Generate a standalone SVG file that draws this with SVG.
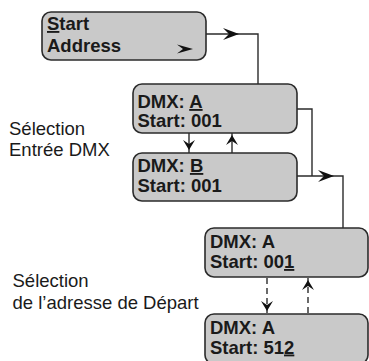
<svg xmlns="http://www.w3.org/2000/svg" width="369" height="361" viewBox="0 0 369 361">
<style>
.box{fill:#c9c9c9;stroke:#2b2b2b;stroke-width:1.6}
.bt{font-family:"Liberation Sans",Arial,sans-serif;font-weight:bold;font-size:18.5px;fill:#1a1a1a}
.lb{font-family:"Liberation Sans",Arial,sans-serif;font-size:18.5px;fill:#1a1a1a}
.ln{fill:none;stroke:#2b2b2b;stroke-width:1.4}
.dash{stroke-dasharray:6 4}
.ah{fill:#111}
.u{text-decoration:underline}
</style>
<defs>
<path id="big" d="M0,0 L-16,-6 L-10,0 L-16,6 Z"/>
<path id="small" d="M0,0 L-10,-6 L-6,0 L-10,6 Z"/>
</defs>
<g id="connectors">
<path class="ln" d="M206,34 H258 V84"/>
<use href="#big" class="ah" transform="translate(239,34)"/>
<path class="ln" d="M297,109 H312 V176"/>
<path class="ln" d="M297,176 H343 V228"/>
<use href="#big" class="ah" transform="translate(334,176)"/>
<path class="ln" d="M189,133 V153"/>
<use href="#small" class="ah" transform="translate(189,150) rotate(90)"/>
<path class="ln" d="M232,153 V133"/>
<use href="#small" class="ah" transform="translate(232,135) rotate(-90)"/>
<path class="ln dash" d="M267,278 V313"/>
<use href="#small" class="ah" transform="translate(267,311) rotate(90)"/>
<path class="ln dash" d="M308,313 V278"/>
<use href="#small" class="ah" transform="translate(308,280) rotate(-90)"/>
</g>
<g id="start-address">
<rect class="box" x="42" y="12" width="164" height="48" rx="9"/>
<text class="bt" x="47" y="30"><tspan class="u">S</tspan>tart</text>
<text class="bt" x="47" y="52">Address</text>
<use href="#big" class="ah" transform="translate(193,49) scale(1,0.75)"/>
</g>
<g id="dmx-a">
<rect class="box" x="133" y="84" width="164" height="49" rx="9"/>
<text class="bt" x="137.5" y="108">DMX: <tspan class="u">A</tspan></text>
<text class="bt" x="137.5" y="127">Start: 001</text>
</g>
<g id="dmx-b">
<rect class="box" x="133" y="153" width="164" height="48" rx="9"/>
<text class="bt" x="137.5" y="172">DMX: <tspan class="u">B</tspan></text>
<text class="bt" x="137.5" y="192">Start: 001</text>
</g>
<g id="addr-001">
<rect class="box" x="205" y="228" width="163" height="49" rx="9"/>
<text class="bt" x="210" y="247.5">DMX: A</text>
<text class="bt" x="210" y="268">Start: 00<tspan class="u">1</tspan></text>
</g>
<g id="addr-512">
<rect class="box" x="205" y="314" width="163" height="50" rx="9"/>
<text class="bt" x="210" y="333.5">DMX: A</text>
<text class="bt" x="210" y="353.5">Start: 51<tspan class="u">2</tspan></text>
</g>
<g id="label-dmx">
<text class="lb" x="9" y="135">Sélection</text>
<text class="lb" x="9" y="156">Entrée DMX</text>
</g>
<g id="label-address">
<text class="lb" x="12.5" y="287">Sélection</text>
<text class="lb" x="12.5" y="308.5">de l’adresse de Départ</text>
</g>
</svg>
